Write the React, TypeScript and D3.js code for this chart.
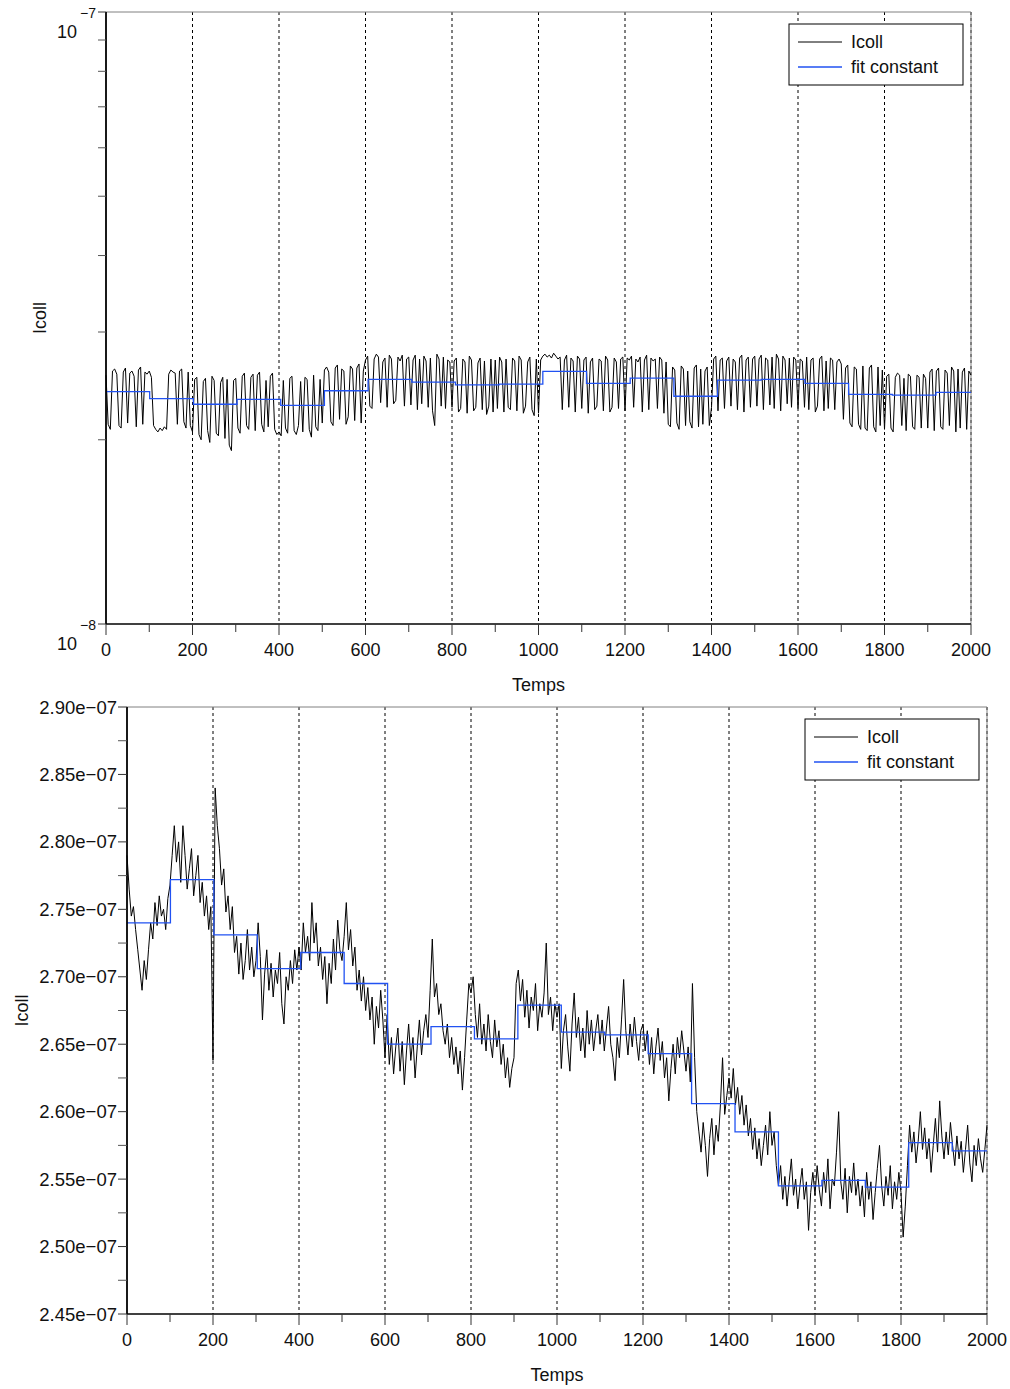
import React from "react";
import * as d3 from "d3";

// Sampling step of the recorded series (time units)
const T_STEP = 5;

// Top panel: Icoll, in units of 1e-10 A (log axis)
const ICOLL_TOP = [
  255,212,208,259,261,256,211,209,258,262,213,257,259,254,210,260,263,212,258,256,
  259,253,211,208,206,209,207,210,208,256,260,258,257,212,259,261,214,209,258,211,
  206,251,253,204,200,249,252,207,198,254,250,205,203,248,253,201,251,196,192,250,
  252,209,205,254,257,211,208,253,256,207,255,258,212,206,250,210,254,257,208,204,
  206,203,250,209,205,252,254,207,204,211,249,206,253,251,208,202,255,210,207,251,
  213,260,263,258,214,211,262,265,216,261,259,212,218,264,261,215,262,266,213,259,
  270,274,227,225,271,276,273,230,268,272,226,275,271,229,232,273,269,275,227,271,
  273,228,270,275,224,271,229,274,269,226,272,223,211,276,271,227,273,225,270,268,
  226,269,272,222,225,271,268,221,274,270,223,226,267,272,224,269,220,227,271,222,
  270,225,273,268,222,271,226,224,272,269,223,274,270,221,227,268,273,224,219,271,
  221,270,274,276,273,275,272,277,274,271,273,224,270,275,226,272,269,222,274,271,
  225,270,273,221,268,272,224,227,271,269,223,274,270,222,226,272,268,225,271,273,
  223,272,270,274,226,271,268,273,222,270,275,224,272,269,271,225,273,270,221,268,
  212,210,263,260,213,208,264,261,211,259,214,209,262,265,210,261,212,259,263,211,
  226,271,274,223,270,272,225,269,273,227,271,268,224,272,275,222,270,273,226,271,
  274,227,271,275,224,272,270,228,273,225,276,271,223,274,270,229,272,226,273,270,
  225,271,269,226,273,224,270,272,222,227,271,274,223,269,225,272,270,224,268,271,
  266,216,262,265,213,210,263,261,212,208,264,209,207,262,265,210,206,263,211,260,
  208,254,256,209,206,253,257,255,211,252,207,256,254,210,208,255,253,209,256,252,
  209,258,261,207,259,262,210,208,260,257,211,263,259,206,261,209,258,262,208,259,
  255,
];

// Bottom panel: Icoll, in units of 1e-10 A (linear axis)
const ICOLL_BOT = [
  2790,2765,2745,2752,2735,2720,2705,2690,2712,2698,2720,2740,2728,2755,2738,2760,2745,2750,2735,2758,
  2768,2790,2812,2785,2800,2770,2812,2790,2765,2780,2795,2760,2775,2790,2755,2770,2745,2760,2735,2752,
  2638,2840,2812,2795,2768,2780,2748,2760,2735,2752,2718,2730,2702,2725,2698,2712,2735,2705,2722,2700,
  2712,2740,2715,2668,2702,2720,2690,2710,2685,2705,2695,2718,2680,2665,2700,2690,2712,2695,2720,2705,
  2722,2705,2740,2718,2730,2712,2755,2725,2740,2708,2722,2698,2715,2680,2710,2695,2728,2705,2742,2720,
  2712,2730,2755,2720,2735,2708,2722,2690,2705,2682,2700,2675,2692,2668,2685,2650,2678,2662,2690,2668,
  2640,2672,2635,2655,2628,2648,2662,2630,2652,2620,2645,2665,2638,2655,2625,2648,2668,2642,2660,2672,
  2655,2690,2728,2685,2695,2672,2680,2660,2650,2665,2640,2655,2635,2648,2628,2645,2616,2640,2668,2695,
  2688,2700,2672,2655,2680,2650,2665,2645,2672,2652,2640,2668,2648,2660,2635,2650,2625,2640,2618,2632,
  2640,2695,2705,2682,2698,2670,2690,2662,2685,2675,2695,2660,2680,2670,2688,2725,2672,2685,2660,2680,
  2670,2680,2632,2660,2672,2648,2630,2665,2688,2655,2670,2645,2662,2640,2675,2650,2668,2645,2660,2672,
  2650,2668,2645,2662,2678,2650,2640,2623,2655,2640,2668,2698,2660,2642,2665,2648,2670,2652,2638,2660,
  2665,2645,2660,2635,2655,2628,2648,2662,2638,2652,2625,2640,2608,2632,2650,2628,2655,2640,2660,2645,
  2630,2648,2622,2695,2640,2600,2585,2570,2592,2575,2552,2580,2595,2568,2590,2578,2605,2640,2598,2612,
  2625,2610,2632,2605,2618,2598,2612,2590,2605,2582,2595,2572,2588,2565,2580,2560,2575,2590,2568,2600,
  2575,2585,2560,2545,2560,2535,2552,2530,2548,2565,2538,2550,2528,2545,2558,2535,2548,2512,2540,2555,
  2538,2560,2542,2530,2555,2540,2565,2528,2550,2545,2570,2600,2548,2535,2558,2525,2552,2540,2562,2538,
  2550,2530,2545,2522,2555,2535,2548,2520,2540,2558,2575,2545,2530,2552,2538,2560,2528,2548,2535,2555,
  2540,2507,2530,2560,2590,2570,2585,2562,2578,2600,2572,2588,2565,2580,2555,2575,2595,2570,2608,2582,
  2565,2585,2568,2592,2575,2560,2582,2565,2578,2555,2572,2590,2562,2548,2575,2560,2580,2565,2555,2572,
  2590,
];

// Fit constant: segment boundaries and levels
const FIT_BOUNDS = [0,101,202,303,404,505,606,707,808,909,1010,1111,1212,1313,1414,1515,1616,1717,1818,1919,2000];
const FIT_TOP = [2.397,2.334,2.286,2.328,2.277,2.405,2.511,2.484,2.458,2.465,2.587,2.473,2.523,2.356,2.504,2.51,2.473,2.373,2.365,2.391]; // x1e-8
const FIT_BOT = [2.740,2.772,2.731,2.706,2.718,2.695,2.650,2.663,2.654,2.679,2.659,2.657,2.643,2.606,2.585,2.545,2.549,2.544,2.577,2.571]; // x1e-7

const X_TICKS = [0,200,400,600,800,1000,1200,1400,1600,1800,2000];
const X_MINOR = [100,300,500,700,900,1100,1300,1500,1700,1900];
const Y_TICKS_BOT = [2.45e-7,2.50e-7,2.55e-7,2.60e-7,2.65e-7,2.70e-7,2.75e-7,2.80e-7,2.85e-7,2.90e-7];
const Y_LABELS_BOT = ["2.45e\u221207","2.50e\u221207","2.55e\u221207","2.60e\u221207","2.65e\u221207","2.70e\u221207","2.75e\u221207","2.80e\u221207","2.85e\u221207","2.90e\u221207"];
const Y_MINOR_BOT = [2.475e-7,2.525e-7,2.575e-7,2.625e-7,2.675e-7,2.725e-7,2.775e-7,2.825e-7,2.875e-7];
const Y_LOG_MAJOR = [1e-8,1e-7];
const Y_LOG_EXP = ["\u22128","\u22127"];
const Y_LOG_MINOR = [2e-8,3e-8,4e-8,5e-8,6e-8,7e-8,8e-8,9e-8];
const LEGEND = ["Icoll","fit constant"];
const X_TITLE = "Temps";
const Y_TITLE = "Icoll";

const FONT = "'Liberation Sans', Arial, Helvetica, sans-serif";
const BLUE = "#2152f2";

type PanelProps = {
  x0: number; x1: number; y0: number; y1: number;
  log: boolean;
  data: number[]; dataScale: number;
  fit: number[]; fitScale: number;
  yTitleX: number;
};

function Panel({ x0, x1, y0, y1, log, data, dataScale, fit, fitScale, yTitleX }: PanelProps) {
  const x = d3.scaleLinear().domain([0, 2000]).range([x0, x1]);
  const y: any = log
    ? d3.scaleLog().domain([1e-8, 1e-7]).range([y1, y0])
    : d3.scaleLinear().domain([2.45e-7, 2.9e-7]).range([y1, y0]);

  const pts: [number, number][] = data.map((v, i) => [i * T_STEP, v * dataScale]);
  const line = d3.line<[number, number]>().x(d => x(d[0])).y(d => y(d[1]));
  const fitPts: [number, number][] = fit.map((v, i) => [FIT_BOUNDS[i], v * fitScale]);
  fitPts.push([2000, fit[fit.length - 1] * fitScale]);
  const fitLine = d3.line<[number, number]>().x(d => x(d[0])).y(d => y(d[1])).curve(d3.curveStepAfter);

  const lx = x1 - 8 - 174;
  const ly = y0 + 12;

  return (
    <g>
      {X_TICKS.filter(t => t > 0).map(t => (
        <line key={"g" + t} x1={x(t)} x2={x(t)} y1={y0} y2={y1} stroke="#000" strokeWidth={1} strokeDasharray="3,3" />
      ))}
      <line x1={x0} x2={x1} y1={y0} y2={y0} stroke="#808080" strokeWidth={1} />
      <line x1={x1} x2={x1} y1={y0} y2={y1} stroke="#808080" strokeWidth={1} />
      <path d={line(pts) || ""} fill="none" stroke="#000" strokeWidth={1} strokeLinejoin="round" />
      <path d={fitLine(fitPts) || ""} fill="none" stroke={BLUE} strokeWidth={1.3} />
      <line x1={x0} x2={x1} y1={y1} y2={y1} stroke="#000" strokeWidth={1.5} />
      <line x1={x0} x2={x0} y1={y0} y2={y1} stroke="#000" strokeWidth={1.8} />
      {X_TICKS.map(t => (
        <g key={"xt" + t}>
          <line x1={x(t)} x2={x(t)} y1={y1} y2={y1 + 11} stroke="#333" strokeWidth={1} />
          <text x={x(t)} y={y1 + 32} textAnchor="middle" fontSize={18} fontFamily={FONT} fill="#111">{t}</text>
        </g>
      ))}
      {X_MINOR.map(t => (
        <line key={"xm" + t} x1={x(t)} x2={x(t)} y1={y1} y2={y1 + 8} stroke="#333" strokeWidth={1} />
      ))}
      <text x={(x0 + x1) / 2} y={y1 + 67} textAnchor="middle" fontSize={18} fontFamily={FONT} fill="#111">{X_TITLE}</text>
      {log ? (
        <g>
          {Y_LOG_MAJOR.map((v, i) => (
            <g key={"ly" + i}>
              <line x1={x0 - 8} x2={x0} y1={y(v)} y2={y(v)} stroke="#333" strokeWidth={1} />
              <text x={x0 - 29} y={y(v) + 26} textAnchor="end" fontSize={18} fontFamily={FONT} fill="#111">10</text>
              <text x={x0 - 10} y={y(v) + 6} textAnchor="end" fontSize={14} fontFamily={FONT} fill="#111">{Y_LOG_EXP[i]}</text>
            </g>
          ))}
          {Y_LOG_MINOR.map(v => (
            <line key={"lm" + v} x1={x0 - 8} x2={x0} y1={y(v)} y2={y(v)} stroke="#555" strokeWidth={1} />
          ))}
        </g>
      ) : (
        <g>
          {Y_TICKS_BOT.map((v, i) => (
            <g key={"yt" + i}>
              <line x1={x0 - 9} x2={x0} y1={y(v)} y2={y(v)} stroke="#333" strokeWidth={1} />
              <text x={x0 - 10} y={y(v) + 6.5} textAnchor="end" fontSize={18.5} fontFamily={FONT} fill="#111">{Y_LABELS_BOT[i]}</text>
            </g>
          ))}
          {Y_MINOR_BOT.map(v => (
            <line key={"ym" + v} x1={x0 - 9} x2={x0} y1={y(v)} y2={y(v)} stroke="#555" strokeWidth={1} />
          ))}
        </g>
      )}
      <text transform={`translate(${yTitleX},${(y0 + y1) / 2}) rotate(-90)`} textAnchor="middle" fontSize={18} fontFamily={FONT} fill="#111">{Y_TITLE}</text>
      <g>
        <rect x={lx} y={ly} width={174} height={61} fill="#fff" stroke="#000" strokeWidth={1} />
        <line x1={lx + 9} x2={lx + 53} y1={ly + 18} y2={ly + 18} stroke="#000" strokeWidth={1} />
        <text x={lx + 62} y={ly + 24} fontSize={18} fontFamily={FONT} fill="#111">{LEGEND[0]}</text>
        <line x1={lx + 9} x2={lx + 53} y1={ly + 43} y2={ly + 43} stroke={BLUE} strokeWidth={1.3} />
        <text x={lx + 62} y={ly + 49} fontSize={18} fontFamily={FONT} fill="#111">{LEGEND[1]}</text>
      </g>
    </g>
  );
}

export default function App() {
  return (
    <svg width={1010} height={1389} style={{ position: "absolute", left: 0, top: 0, background: "#fff" }}>
      <rect x={0} y={0} width={1010} height={1389} fill="#fff" />
      <Panel x0={106} x1={971} y0={12} y1={624} log={true}
        data={ICOLL_TOP} dataScale={1e-10} fit={FIT_TOP} fitScale={1e-8} yTitleX={46} />
      <Panel x0={127} x1={987} y0={707} y1={1314} log={false}
        data={ICOLL_BOT} dataScale={1e-10} fit={FIT_BOT} fitScale={1e-7} yTitleX={28} />
    </svg>
  );
}
